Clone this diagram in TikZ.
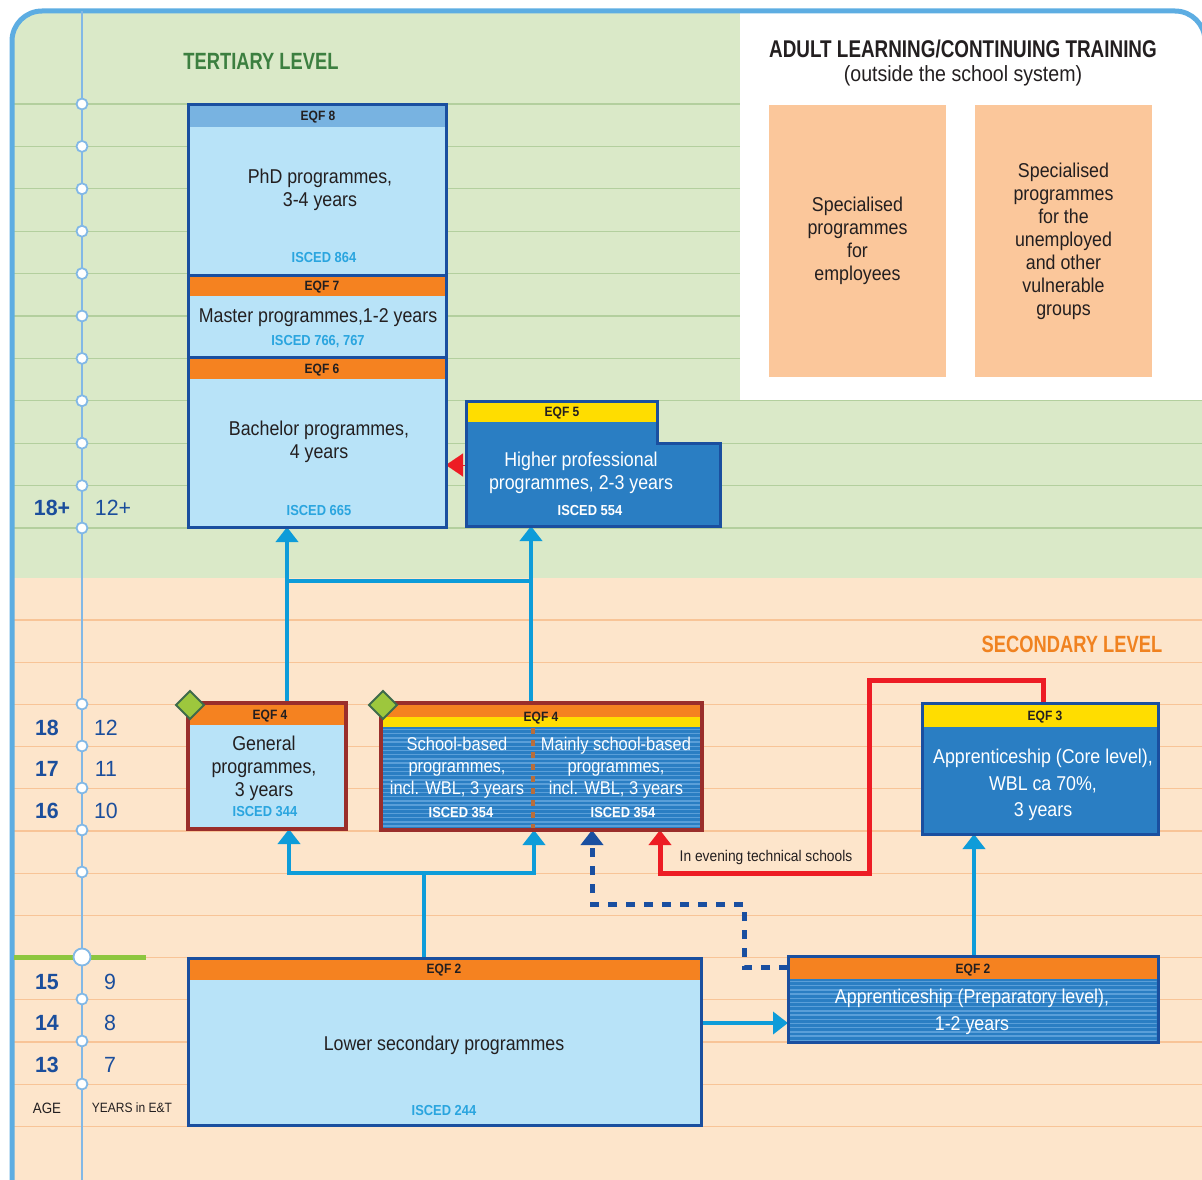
\documentclass[tikz,border=0pt]{standalone}
\usepackage{fontspec}
\setmainfont{Liberation Sans}[FakeStretch=0.89]
\newfontfamily\titlefam{Liberation Sans}[FakeStretch=0.78]
\newfontfamily\agefam{Liberation Sans}[FakeStretch=0.97]
\usetikzlibrary{arrows.meta}
\definecolor{framec}{HTML}{5DADE2}
\definecolor{bggreen}{HTML}{DAE9C8}
\definecolor{bgpeach}{HTML}{FDE5CB}
\definecolor{gridg}{HTML}{B3CF9E}
\definecolor{grido}{HTML}{F8C497}
\definecolor{tlc}{HTML}{82B8E6}
\definecolor{dkblue}{HTML}{1A4F9F}
\definecolor{ltbody}{HTML}{B8E3F8}
\definecolor{hdrblue}{HTML}{78B3E1}
\definecolor{orng}{HTML}{F58220}
\definecolor{yel}{HTML}{FFDD00}
\definecolor{medblue}{HTML}{2A7EC3}
\definecolor{stripec}{HTML}{5A9FD9}
\definecolor{dkred}{HTML}{9A2E2B}
\definecolor{cyanc}{HTML}{0E9CD9}
\definecolor{redc}{HTML}{ED1C24}
\definecolor{iscc}{HTML}{2AA5DF}
\definecolor{txtd}{HTML}{231F20}
\definecolor{ageb}{HTML}{1B4E9C}
\definecolor{tgreen}{HTML}{3C7F40}
\definecolor{sorange}{HTML}{F08220}
\definecolor{peach}{HTML}{FBC79B}
\definecolor{dfill}{HTML}{9DC73D}
\definecolor{dborder}{HTML}{3F6B4B}
\definecolor{dashb}{HTML}{1A4FA0}
\definecolor{divc}{HTML}{B86E3C}
\definecolor{greenbar}{HTML}{8DC63F}
\newcommand\fbody{\fontsize{20}{23}\selectfont}
\newcommand\fbodysmall{\fontsize{18.5}{22}\selectfont}
\newcommand\fbodywide{\fontsize{20}{26.5}\selectfont}
\newcommand\fhd{\bfseries\fontsize{13.5}{15}\selectfont}
\newcommand\fisc{\bfseries\fontsize{14.5}{16}\selectfont}
\begin{document}
\begin{tikzpicture}[x=1pt,y=-1pt,
  boxbase/.style={anchor=north west, inner sep=0, outer sep=0, draw=none},
  tx/.style={font=\fbody, text=txtd, align=center, inner sep=0},
  wt/.style={font=\fbody, text=white, align=center, inner sep=0},
  hd/.style={font=\fhd, text=txtd, inner sep=0},
  isc/.style={font=\fisc, text=iscc, inner sep=0},
  iscw/.style={font=\fisc, text=white, inner sep=0},
  ageb/.style={font=\agefam\bfseries\fontsize{22}{24}\selectfont, text=ageb, inner sep=0},
  agen/.style={font=\agefam\fontsize{22}{24}\selectfont, text=ageb, inner sep=0},
  bluebord/.style={draw=dkblue, line width=3},
  redbord/.style={draw=dkred, line width=3.5},
  cy/.style={draw=cyanc, line width=4},
  tip/.style={-{Triangle[length=15pt,width=22pt]}},
  dot/.style={fill=white, draw=tlc, line width=1.8},
  diam/.style={fill=dfill, draw=dborder, line width=2}]
\useasboundingbox (0,0) rectangle (1202,1180);
% backgrounds
\begin{scope}
\clip[rounded corners=30] (12,11) rectangle (1205,1300);
\fill[bggreen] (0,0) rectangle (1210,578);
\fill[bgpeach] (0,578) rectangle (1210,1300);
\foreach \i in {0,...,10} \draw[gridg, line width=1.3] (14,{104+42.4*\i}) -- (1210,{104+42.4*\i});
\foreach \i in {0,...,12} \draw[grido, line width=1.3] (14,{620+42.2*\i}) -- (1210,{620+42.2*\i});
\fill[white] (740,0) rectangle (1210,400);
\end{scope}
\draw[framec, line width=5, rounded corners=30] (12,1300) -- (12,11) -- (1205,11) -- (1205,1300);
% timeline
\draw[tlc, line width=2.5] (82,11) -- (82,1180);
\draw[greenbar, line width=5] (14,957) -- (146,957);
\foreach \i in {0,...,10} \path[dot] (82,{104+42.4*\i}) circle[radius=5.5pt];
\foreach \yy in {704,746,788,830,872,999,1041,1084} \path[dot] (82,\yy) circle[radius=5.5pt];
\path[dot] (82,957) circle[radius=8.5pt];
% age labels
\node[ageb] (a18p) at (52,508) {18+};
\node[agen] (y12p) at (113,508) {12+};
\node[ageb] (a18) at (47,728) {18};
\node[agen] (y12) at (106,728) {12};
\node[ageb] (a17) at (47,769) {17};
\node[agen] (y11) at (106,769) {11};
\node[ageb] (a16) at (47,811) {16};
\node[agen] (y10) at (106,811) {10};
\node[ageb] (a15) at (47,982) {15};
\node[agen] (y9) at (110,982) {9};
\node[ageb] (a14) at (47,1023) {14};
\node[agen] (y8) at (110,1023) {8};
\node[ageb] (a13) at (47,1065) {13};
\node[agen] (y7) at (110,1065) {7};
\node[font=\fontsize{15}{16}\selectfont, text=txtd, inner sep=0] (age) at (47,1108) {AGE};
\node[font=\fontsize{13.5}{15}\selectfont, text=txtd, inner sep=0] (yrs) at (132,1108) {YEARS in E\&T};
% level titles
\node[font=\titlefam\bfseries\fontsize{23.5}{26}\selectfont, text=tgreen, inner sep=0] (tert) at (261,61) {TERTIARY LEVEL};
\node[font=\titlefam\bfseries\fontsize{23.5}{26}\selectfont, text=sorange, inner sep=0] (sec) at (1072,644) {SECONDARY LEVEL};
% adult learning
\node[font=\titlefam\bfseries\fontsize{24.2}{26}\selectfont, text=txtd, inner sep=0] (adult) at (963,49) {ADULT LEARNING/CONTINUING TRAINING};
\node[tx, font=\fontsize{22}{24}\selectfont] (outside) at (963,76) {(outside the school system)};
\node[boxbase, fill=peach, minimum width=177, minimum height=272] (emp) at (769,105) {};
\node[boxbase, fill=peach, minimum width=177, minimum height=272] (unemp) at (975,105) {};
\node[tx] (empt) at (emp.center) {Specialised\\programmes\\for\\employees};
\node[tx] (unempt) at (unemp.center) {Specialised\\programmes\\for the\\unemployed\\and other\\vulnerable\\groups};
% coordinates for connectors
\coordinate (xa) at (287,0); \coordinate (xb) at (531,0); \coordinate (ya) at (0,581);
\coordinate (xc) at (424,0); \coordinate (yb) at (0,873); \coordinate (xd) at (289,0); \coordinate (xe) at (534,0);
\coordinate (yc) at (0,1023); \coordinate (xf) at (974,0);
\coordinate (xg) at (744,0); \coordinate (yd) at (0,967); \coordinate (ye) at (0,904); \coordinate (xh) at (592,0);
\coordinate (yf) at (0,680); \coordinate (xi) at (869,0); \coordinate (xj) at (660,0); \coordinate (xk) at (1043,0);
\coordinate (ry) at (0,465);
% boxes (fills)
\node[boxbase, fill=ltbody, minimum width=258, minimum height=170] (phd) at (188,105) {};
\node[boxbase, fill=ltbody, minimum width=258, minimum height=82] (mast) at (188,275) {};
\node[boxbase, fill=ltbody, minimum width=258, minimum height=170] (bach) at (188,357) {};
\node[boxbase, minimum width=254, minimum height=125] (eqf5) at (466,401) {};
\node[boxbase, fill=ltbody, minimum width=158, minimum height=126] (gen) at (188,703) {};
\node[boxbase, fill=medblue, minimum width=321, minimum height=127] (sch) at (381,703) {};
\node[boxbase, fill=medblue, minimum width=236, minimum height=131] (core) at (922,703) {};
\node[boxbase, fill=ltbody, minimum width=513, minimum height=167] (low) at (188,958) {};
\node[boxbase, fill=medblue, minimum width=370, minimum height=86] (prep) at (788,956) {};
% connectors
\draw[cy, tip] (gen.north -| xa) -- (bach.south -| xa);
\draw[cy, tip] (sch.north -| xb) -- (eqf5.south -| xb);
\draw[cy] (xa |- ya) -- (xb |- ya);
\draw[cy] (low.north -| xc) -- (xc |- yb);
\draw[cy, tip] (xc |- yb) -| (gen.south -| xd);
\draw[cy, tip] (xc |- yb) -| (sch.south -| xe);
\draw[cy, tip] (low.east |- yc) -- (prep.west |- yc);
\draw[cy, tip] (prep.north -| xf) -- (core.south -| xf);
\draw[dashb, line width=5, dash pattern=on 9pt off 9pt, tip] (prep.west |- yd) -- (xg |- yd) -- (xg |- ye) -- (xh |- ye) -- (sch.south -| xh);
\draw[redc, line width=5, miter limit=10, tip] (core.north -| xk) -- (xk |- yf) -- (xi |- yf) -- (xi |- yb) -- (xj |- yb) -- (sch.south -| xj);
\node[font=\fontsize{15.5}{17}\selectfont, text=txtd, inner sep=0] (evening) at (766,857) {In evening technical schools};
\draw[redc, line width=0.1, -{Triangle[length=17pt,width=23pt]}] (eqf5.west |- ry) -- (bach.east |- ry);
% stripes
\begin{scope}
\clip (382.5,727) rectangle (700.5,828.5);
\foreach \i in {0,...,25} \draw[stripec, line width=1.5] (380,{729.5+4.2*\i}) -- (705,{729.5+4.2*\i});
\end{scope}
\begin{scope}
\clip (789.5,979) rectangle (1156.5,1040.5);
\foreach \i in {0,...,16} \draw[stripec, line width=1.5] (785,{981.5+4.2*\i}) -- (1160,{981.5+4.2*\i});
\end{scope}
% EQF5 shape
\fill[medblue] (466,401) -- (657,401) -- (657,443) -- (720,443) -- (720,526) -- (466,526) -- cycle;
\fill[yel] (467.5,402.5) rectangle (655.5,422);
\draw[dkblue, line width=3] (466,401) -- (657,401) -- (657,443) -- (720,443) -- (720,526) -- (466,526) -- cycle;
% headers
\fill[hdrblue] (189.5,106.5) rectangle (444.5,127);
\fill[orng] (189.5,276.5) rectangle (444.5,296);
\fill[orng] (189.5,358.5) rectangle (444.5,379);
\fill[orng] (189.5,704.5) rectangle (344.5,725);
\fill[orng] (382.5,704.5) rectangle (700.5,717);
\fill[yel] (382.5,717) rectangle (700.5,727);
\fill[yel] (923.5,704.5) rectangle (1156.5,727);
\fill[orng] (189.5,959.5) rectangle (699.5,980);
\fill[orng] (789.5,957.5) rectangle (1156.5,979);
\draw[divc, line width=4, dash pattern=on 6pt off 6pt] (533,728) -- (533,829);
% borders
\draw[bluebord] (phd.north west) rectangle (phd.south east);
\draw[bluebord] (mast.north west) rectangle (mast.south east);
\draw[bluebord] (bach.north west) rectangle (bach.south east);
\draw[redbord] (gen.north west) rectangle (gen.south east);
\draw[redbord] (sch.north west) rectangle (sch.south east);
\draw[bluebord] (core.north west) rectangle (core.south east);
\draw[bluebord] (low.north west) rectangle (low.south east);
\draw[bluebord] (prep.north west) rectangle (prep.south east);
\draw[diam] (190,691) -- (204,705) -- (190,719) -- (176,705) -- cycle;
\draw[diam] (383,691) -- (397,705) -- (383,719) -- (369,705) -- cycle;
% texts
\node[hd] (h8) at (318,117) {EQF 8};
\node[tx] (phdt) at (320,190) {PhD programmes,\\3-4 years};
\node[isc] (i8) at (324,258) {ISCED 864};
\node[hd] (h7) at (322,287) {EQF 7};
\node[tx] (mastt) at (318,318) {Master programmes,1-2 years};
\node[isc] (i7) at (318,342) {ISCED 766, 767};
\node[hd] (h6) at (322,370) {EQF 6};
\node[tx] (bacht) at (319,442) {Bachelor programmes,\\4 years};
\node[isc] (i6) at (319,511) {ISCED 665};
\node[hd] (h5) at (562,413) {EQF 5};
\node[wt] (hpt) at (581,473) {Higher professional\\programmes, 2-3 years};
\node[iscw] (i5) at (590,511) {ISCED 554};
\node[hd] (h4a) at (270,716) {EQF 4};
\node[tx] (gent) at (264,768) {General\\programmes,\\3 years};
\node[isc] (i4a) at (265,812) {ISCED 344};
\node[hd] (h4b) at (541,718) {EQF 4};
\node[wt, font=\fbodysmall] (scht) at (457,768) {School-based\\programmes,\\incl. WBL, 3 years};
\node[wt, font=\fbodysmall] (mscht) at (616,768) {Mainly school-based\\programmes,\\incl. WBL, 3 years};
\node[iscw] (i4b) at (461,813) {ISCED 354};
\node[iscw] (i4c) at (623,813) {ISCED 354};
\node[hd] (h3) at (1045,717) {EQF 3};
\node[wt, font=\fbodywide] (coret) at (1043,785) {Apprenticeship (Core level),\\WBL ca 70\%,\\3 years};
\node[hd] (h2a) at (444,970) {EQF 2};
\node[tx] (lowt) at (444,1045) {Lower secondary programmes};
\node[isc] (i2) at (444,1110) {ISCED 244};
\node[hd] (h2b) at (973,970) {EQF 2};
\node[wt, font=\fbodywide] (prept) at (972,1012) {Apprenticeship (Preparatory level),\\1-2 years};
\end{tikzpicture}
\end{document}
